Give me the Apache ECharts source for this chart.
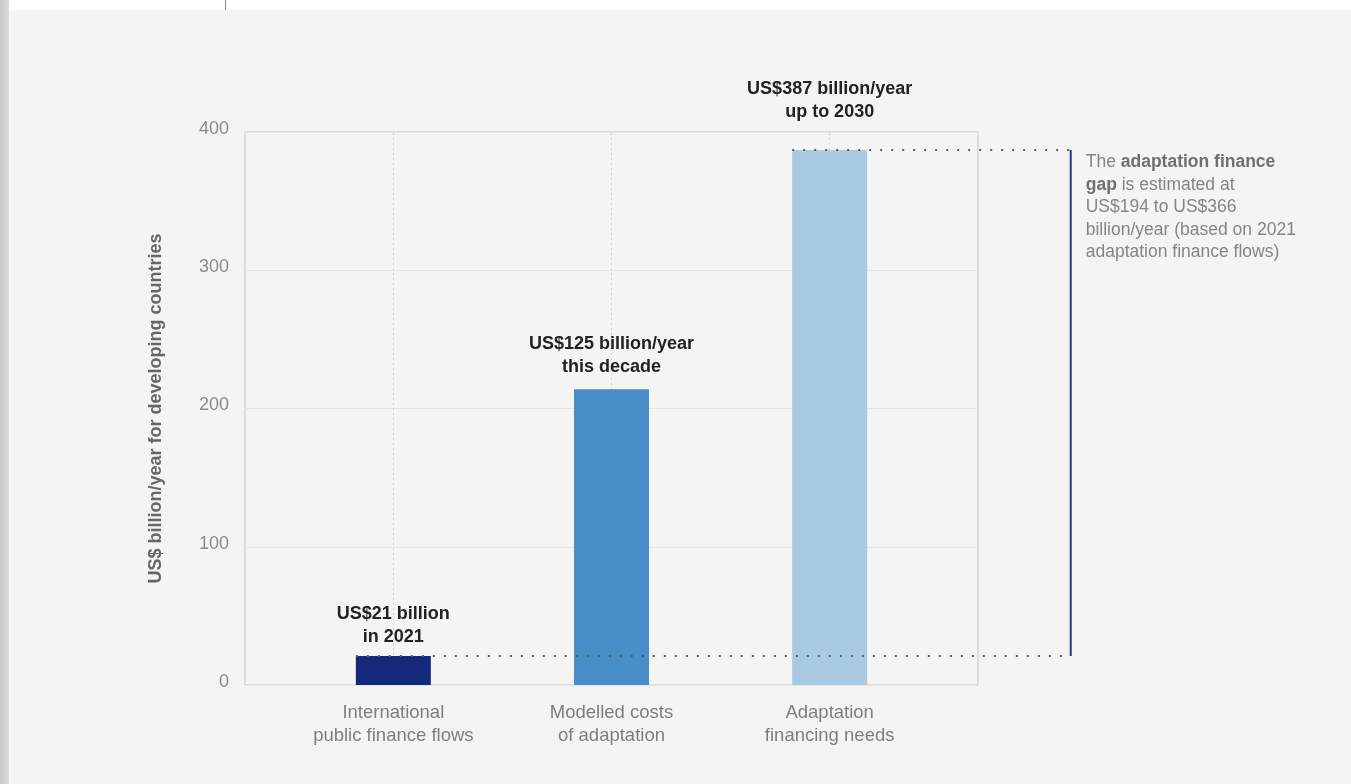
<!DOCTYPE html>
<html><head><meta charset="utf-8">
<script src="https://cdn.jsdelivr.net/npm/echarts@6/dist/echarts.min.js"></script>
<style>
html,body{margin:0;padding:0;width:1351px;height:784px;overflow:hidden;background:#f4f4f4;}
#leftStrip{position:absolute;left:0;top:0;width:9px;height:784px;background:linear-gradient(to right,#c9c9c9,#dcdcdc);}
#topStrip{position:absolute;left:9px;top:0;width:1342px;height:10px;background:#fff;}
#tick{position:absolute;left:225px;top:0;width:1px;height:10px;background:#888;}
#chart{position:absolute;left:0;top:0;width:1351px;height:784px;}
</style></head>
<body>
<div id="leftStrip"></div><div id="topStrip"></div><div id="tick"></div>
<div id="chart"></div>
<script>
// ---- data ----
const categories = ['International\npublic finance flows', 'Modelled costs\nof adaptation', 'Adaptation\nfinancing needs'];
const values = [21, 214, 387];
const barLabels = ['US$21 billion\nin 2021', 'US$125 billion/year\nthis decade', 'US$387 billion/year\nup to 2030'];
const yTicks = [0, 100, 200, 300, 400];
const yAxisTitle = 'US$ billion/year for developing countries';
const gapNoteLines = ['The {b|adaptation finance}', '{b|gap} is estimated at', 'US$194 to US$366', 'billion/year (based on 2021', 'adaptation finance flows)'];
const gapFrom = 0, gapTo = 2; // indices of bars bracketed by the gap
const noteX = 3.105;          // x (category units) of the gap bracket

// ---- style ----
const FONT = '"Liberation Sans", Arial, Helvetica, sans-serif';
const barColors = ['#15297c', '#4a8ec9', '#a8cae3'];
const labelDist = [7, 11, 26];
const BAR_W = 75;

const chart = echarts.init(document.getElementById('chart'), null, {renderer: 'canvas'});

const option = {
  backgroundColor: 'transparent',
  animation: false,
  grid: {left: 245, top: 132, right: 373, bottom: 99, show: true, borderColor: '#c6c6c6', borderWidth: 1, backgroundColor: 'transparent'},
  xAxis: {
    type: 'value', min: -0.68, max: 2.68,
    axisLine: {show: false}, axisTick: {show: false}, splitLine: {show: false},
    axisLabel: {
      customValues: categories.map((c, i) => i),
      formatter: v => categories[Math.round(v)] || '',
      color: '#7e7e7e', fontSize: 18.5, fontFamily: FONT, lineHeight: 23, margin: 16
    }
  },
  yAxis: {
    type: 'value', min: yTicks[0], max: yTicks[yTicks.length - 1], interval: 100,
    name: yAxisTitle, nameLocation: 'middle', nameGap: 80, nameRotate: 90,
    nameTextStyle: {color: '#666', fontSize: 18, fontWeight: 'bold', fontFamily: FONT},
    axisLine: {show: false}, axisTick: {show: false},
    axisLabel: {color: '#8a8a8a', fontSize: 18, fontFamily: FONT, margin: 16, verticalAlign: 'bottom', padding: [0,0,-6,0]},
    splitLine: {show: true, lineStyle: {color: '#e5e5e5', width: 1}}
  },
  series: [
    {
      type: 'scatter', data: [], z: 1, silent: true,
      markLine: {
        z: 1, silent: true, symbol: ['none', 'none'], label: {show: false},
        lineStyle: {color: '#d2d2d2', type: [2, 3], width: 1},
        data: categories.map((c, i) => ({xAxis: i}))
      }
    },
    {
      type: 'bar', z: 3, barWidth: BAR_W,
      data: values.map((v, i) => ({
        value: [i, v],
        itemStyle: {color: barColors[i]},
        label: {
          show: true, position: 'top', distance: labelDist[i],
          formatter: barLabels[i], color: '#222', fontWeight: 'bold',
          fontSize: 18, fontFamily: FONT, lineHeight: 23, align: 'center'
        }
      }))
    }
  ]
};
chart.setOption(option);

// Annotation lines placed through the chart's own scales
const px = (x, y) => chart.convertToPixel({xAxisIndex: 0, yAxisIndex: 0}, [x, y]);
const half = BAR_W / 2;
const pLow0 = px(gapFrom, values[gapFrom]);
const pLow1 = px(noteX, values[gapFrom]);
const pHigh0 = px(gapTo, values[gapTo]);
const pHigh1 = px(noteX, values[gapTo]);
const dots = {stroke: '#5e5e5e', lineWidth: 2, lineDash: [2, 9]};
chart.setOption({
  graphic: [
    {type: 'line', z: 10, silent: true, shape: {x1: pLow0[0] - half, y1: pLow0[1], x2: pLow1[0], y2: pLow1[1]}, style: dots},
    {type: 'line', z: 10, silent: true, shape: {x1: pHigh0[0] - half, y1: pHigh0[1], x2: pHigh1[0], y2: pHigh1[1]}, style: dots},
    {type: 'line', z: 11, silent: true, shape: {x1: pHigh1[0], y1: pHigh1[1], x2: pLow1[0], y2: pLow1[1]}, style: {stroke: '#27357d', lineWidth: 2}},
    {type: 'text', z: 11, silent: true, x: pHigh1[0] + 15, y: pHigh1[1] + 1,
      style: {
        text: gapNoteLines.join('\n'), fill: '#858585', fontSize: 17.5, fontFamily: FONT, lineHeight: 22.5,
        rich: {b: {fontWeight: 'bold', fill: '#707070', fontSize: 17.5, fontFamily: FONT, lineHeight: 22.5}}
      }
    }
  ]
});
</script>
</body></html>
